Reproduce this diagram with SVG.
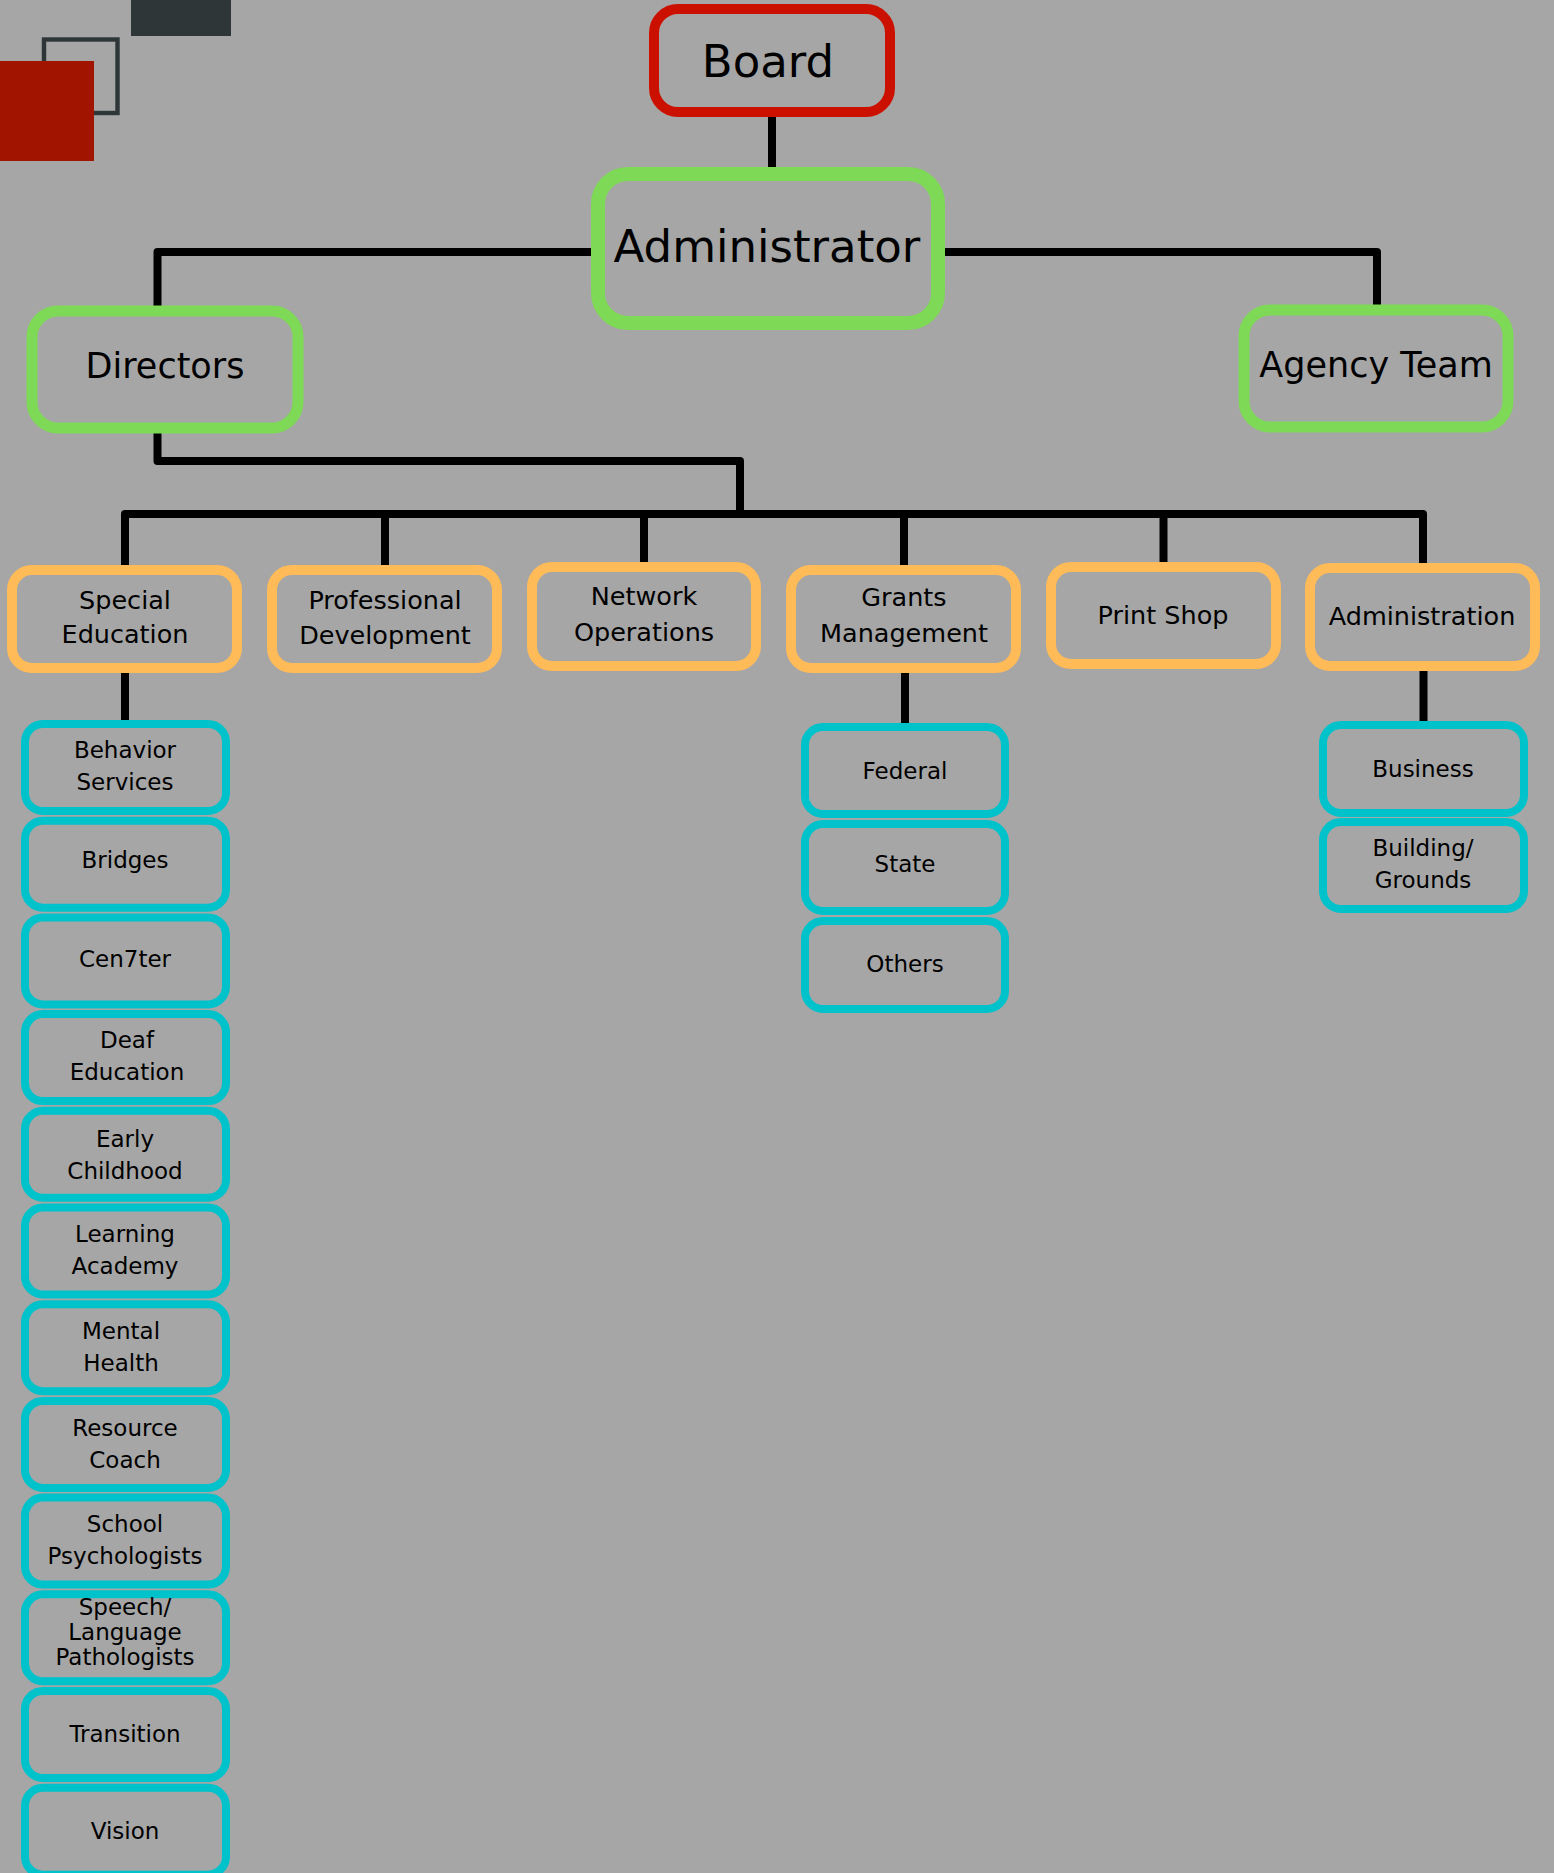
<svg xmlns="http://www.w3.org/2000/svg" width="1554" height="1873" viewBox="0 0 1554 1873">
<style>
text{font-family:"DejaVu Sans","Liberation Sans",sans-serif;fill:#000;text-anchor:middle}
.top{fill:none;stroke:#cc1000;stroke-width:10}
.grn{fill:none;stroke:#7ed957;stroke-width:11}
.org{fill:none;stroke:#ffbb57;stroke-width:10}
.tea{fill:none;stroke:#00c2cb;stroke-width:8}
.con{fill:none;stroke:#000;stroke-width:8;stroke-linecap:round;stroke-linejoin:round}
.t1{font-size:45px}
.t2{font-size:35px}
.t3{font-size:25.5px}
.t4{font-size:23px}
</style>
<rect width="1554" height="1873" fill="#a6a6a6"/>
<g id="decor">
<rect x="131" y="0" width="100" height="36" fill="#2e3638"/>
<rect x="44" y="39.5" width="73.5" height="73.5" fill="none" stroke="#2e3638" stroke-width="4.4"/>
<rect x="0" y="61" width="94" height="100" fill="#a11500"/>
</g>
<g id="connectors">
<path class="con" d="M772 117V167"/>
<path class="con" d="M591 252H157.5V306"/>
<path class="con" d="M946 252H1377V305"/>
<path class="con" d="M157.5 433V461H740V514"/>
<path class="con" d="M125 565V514H1423V563"/>
<path class="con" d="M385 514V565M644 514V562M904 514V565M1163.5 514V562"/>
<path class="con" d="M125 673V720M905 673V723M1423.5 671V721"/>
</g>
<g id="board"><rect class="top" x="654" y="9" width="236" height="103" rx="24"/><text class="t1" x="768" y="77">Board</text></g>
<g id="administrator"><rect class="grn" x="598" y="174" width="340" height="149" rx="30" style="stroke-width:14"/><text class="t1" x="767" y="262">Administrator</text></g>
<g id="directors"><rect class="grn" x="32" y="311" width="266" height="117" rx="26"/><text class="t2" x="165" y="378">Directors</text></g>
<g id="agency-team"><rect class="grn" x="1244" y="310" width="264" height="117" rx="26"/><text class="t2" x="1376" y="377">Agency Team</text></g>
<g id="special-education"><rect class="org" x="12" y="570" width="225" height="98" rx="20"/><text class="t3" x="125" y="609">Special</text><text class="t3" x="125" y="643">Education</text></g>
<g id="professional-development"><rect class="org" x="272" y="570" width="225" height="98" rx="20"/><text class="t3" x="385" y="609">Professional</text><text class="t3" x="385" y="644">Development</text></g>
<g id="network-operations"><rect class="org" x="532" y="567" width="224" height="99" rx="20"/><text class="t3" x="644" y="605">Network</text><text class="t3" x="644" y="641">Operations</text></g>
<g id="grants-management"><rect class="org" x="791" y="570" width="225" height="98" rx="20"/><text class="t3" x="904" y="606">Grants</text><text class="t3" x="904" y="642">Management</text></g>
<g id="print-shop"><rect class="org" x="1051" y="567" width="225" height="97" rx="20"/><text class="t3" x="1163" y="624">Print Shop</text></g>
<g id="administration"><rect class="org" x="1310" y="568" width="225" height="98" rx="20"/><text class="t3" x="1422" y="625">Administration</text></g>
<g id="behavior-services"><rect class="tea" x="25" y="724" width="201" height="87" rx="18"/><text class="t4" x="125" y="758">Behavior</text><text class="t4" x="125" y="790">Services</text></g>
<g id="bridges"><rect class="tea" x="25" y="820.7" width="201" height="87" rx="18"/><text class="t4" x="125" y="868">Bridges</text></g>
<g id="cen7ter"><rect class="tea" x="25" y="917.4" width="201" height="87" rx="18"/><text class="t4" x="125" y="967">Cen7ter</text></g>
<g id="deaf-education"><rect class="tea" x="25" y="1014.1" width="201" height="87" rx="18"/><text class="t4" x="127" y="1048">Deaf</text><text class="t4" x="127" y="1080">Education</text></g>
<g id="early-childhood"><rect class="tea" x="25" y="1110.8" width="201" height="87" rx="18"/><text class="t4" x="125" y="1147">Early</text><text class="t4" x="125" y="1179">Childhood</text></g>
<g id="learning-academy"><rect class="tea" x="25" y="1207.5" width="201" height="87" rx="18"/><text class="t4" x="125" y="1242">Learning</text><text class="t4" x="125" y="1274">Academy</text></g>
<g id="mental-health"><rect class="tea" x="25" y="1304.2" width="201" height="87" rx="18"/><text class="t4" x="121" y="1339">Mental</text><text class="t4" x="121" y="1371">Health</text></g>
<g id="resource-coach"><rect class="tea" x="25" y="1400.9" width="201" height="87" rx="18"/><text class="t4" x="125" y="1436">Resource</text><text class="t4" x="125" y="1468">Coach</text></g>
<g id="school-psychologists"><rect class="tea" x="25" y="1497.6" width="201" height="87" rx="18"/><text class="t4" x="125" y="1532">School</text><text class="t4" x="125" y="1564">Psychologists</text></g>
<g id="speech-language-pathologists"><rect class="tea" x="25" y="1594.3" width="201" height="87" rx="18"/><text class="t4" x="125" y="1615">Speech/</text><text class="t4" x="125" y="1640">Language</text><text class="t4" x="125" y="1665">Pathologists</text></g>
<g id="transition"><rect class="tea" x="25" y="1691" width="201" height="87" rx="18"/><text class="t4" x="125" y="1742">Transition</text></g>
<g id="vision"><rect class="tea" x="25" y="1787.7" width="201" height="87" rx="18"/><text class="t4" x="125" y="1839">Vision</text></g>
<g id="federal"><rect class="tea" x="805" y="727" width="200" height="87" rx="18"/><text class="t4" x="905" y="779">Federal</text></g>
<g id="state"><rect class="tea" x="805" y="824" width="200" height="87" rx="18"/><text class="t4" x="905" y="872">State</text></g>
<g id="others"><rect class="tea" x="805" y="921" width="200" height="88" rx="18"/><text class="t4" x="905" y="972">Others</text></g>
<g id="business"><rect class="tea" x="1323" y="725" width="201" height="88" rx="18"/><text class="t4" x="1423" y="777">Business</text></g>
<g id="building-grounds"><rect class="tea" x="1323" y="822" width="201" height="87" rx="18"/><text class="t4" x="1423" y="856">Building/</text><text class="t4" x="1423" y="888">Grounds</text></g>
</svg>
